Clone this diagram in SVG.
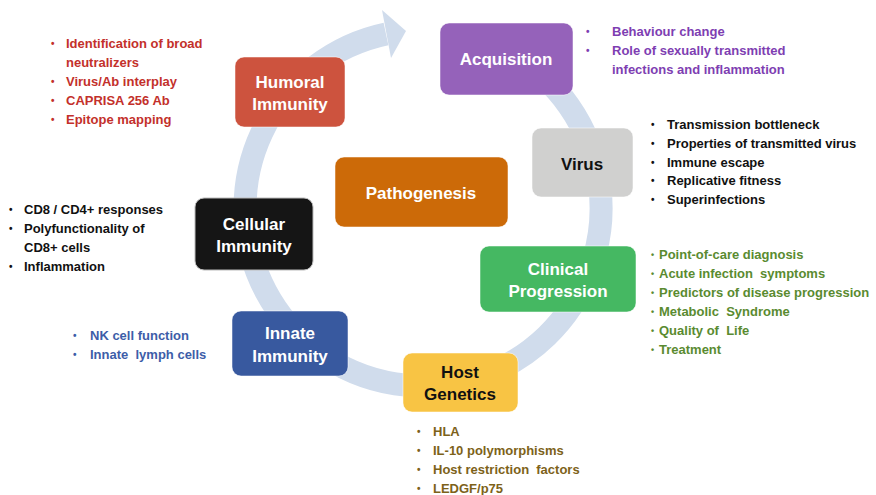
<svg xmlns="http://www.w3.org/2000/svg" width="876" height="495" viewBox="0 0 876 495">
<style>
text{font-family:"Liberation Sans",Arial,sans-serif;font-weight:bold;white-space:pre}
.lbl{font-size:17px;text-anchor:middle;fill:#fff}
.dk{fill:#111}
.b{font-size:13px}
.d{font-size:10px}
.box{stroke:#fff;stroke-opacity:0.5;stroke-width:1}
.ring{fill:none;stroke:#D0DCEC;stroke-width:23}
.red{fill:#C3302B}.pur{fill:#7E3EB2}.blk{fill:#111}.grn{fill:#5A8B30}.blu{fill:#3D5DA8}.gld{fill:#7D6219}
</style>
<rect width="876" height="495" fill="#fff"/>
<g id="connectors">
<path class="ring" d="M 512 53.8 A 178 178 0 1 1 386 33.9"/>
<polygon points="382,10 406,31 391,58" fill="#D0DCEC"/>
</g>
<g id="humoral">
<rect class="box" x="235" y="57" width="110" height="70" rx="9" fill="#CD533E"/>
<text class="lbl" x="290" y="88">Humoral</text>
<text class="lbl" x="290" y="110">Immunity</text>
</g>
<g id="acquisition">
<rect class="box" x="440" y="23" width="133" height="72" rx="9" fill="#9562BA"/>
<text class="lbl" x="506" y="65">Acquisition</text>
</g>
<g id="virus">
<rect class="box" x="532" y="128" width="101" height="69" rx="9" fill="#D0D0CF"/>
<text class="lbl dk" x="582" y="170">Virus</text>
</g>
<g id="pathogenesis">
<rect class="box" x="335" y="157" width="173" height="70" rx="9" fill="#CC6A08"/>
<text class="lbl" x="421" y="199">Pathogenesis</text>
</g>
<g id="cellular">
<rect x="195" y="198" width="118" height="72" rx="9" fill="#151515" stroke="#bbb" stroke-width="1"/>
<text class="lbl" x="254" y="230">Cellular</text>
<text class="lbl" x="254" y="252">Immunity</text>
</g>
<g id="clinical">
<rect class="box" x="480" y="246" width="156" height="66" rx="9" fill="#45B862"/>
<text class="lbl" x="558" y="275">Clinical</text>
<text class="lbl" x="558" y="297">Progression</text>
</g>
<g id="innate">
<rect class="box" x="232" y="311" width="116" height="65" rx="9" fill="#38599F"/>
<text class="lbl" x="290" y="339">Innate</text>
<text class="lbl" x="290" y="362">Immunity</text>
</g>
<g id="host">
<rect class="box" x="403" y="353" width="115" height="59" rx="9" fill="#F8C444"/>
<text class="lbl dk" x="460" y="378">Host</text>
<text class="lbl dk" x="460" y="400">Genetics</text>
</g>
<g id="humoral-notes" class="b red">
<text class="d" x="51" y="47">•</text><text x="66" y="48">Identification of broad</text>
<text x="66" y="67">neutralizers</text>
<text class="d" x="51" y="85">•</text><text x="66" y="86">Virus/Ab interplay</text>
<text class="d" x="51" y="104">•</text><text x="66" y="105">CAPRISA 256 Ab</text>
<text class="d" x="51" y="123">•</text><text x="66" y="124">Epitope mapping</text>
</g>
<g id="acquisition-notes" class="b pur">
<text class="d" x="586" y="35">•</text><text x="612" y="36">Behaviour change</text>
<text class="d" x="586" y="54">•</text><text x="612" y="55">Role of sexually transmitted</text>
<text x="612" y="74">infections and inflammation</text>
</g>
<g id="virus-notes" class="b blk">
<text class="d" x="651" y="128">•</text><text x="667" y="129">Transmission bottleneck</text>
<text class="d" x="651" y="147">•</text><text x="667" y="148">Properties of transmitted virus</text>
<text class="d" x="651" y="165.5">•</text><text x="667" y="166.5">Immune escape</text>
<text class="d" x="651" y="184">•</text><text x="667" y="185">Replicative fitness</text>
<text class="d" x="651" y="203">•</text><text x="667" y="204">Superinfections</text>
</g>
<g id="cellular-notes" class="b blk">
<text class="d" x="9" y="213">•</text><text x="24" y="214">CD8 / CD4+ responses</text>
<text class="d" x="9" y="232">•</text><text x="24" y="233">Polyfunctionality of</text>
<text x="24" y="252">CD8+ cells</text>
<text class="d" x="9" y="270">•</text><text x="24" y="271">Inflammation</text>
</g>
<g id="clinical-notes" class="b grn">
<text x="651" y="258" font-size="9">•</text><text x="659" y="259">Point-of-care diagnosis</text>
<text x="651" y="277" font-size="9">•</text><text x="659" y="278">Acute infection  symptoms</text>
<text x="651" y="296" font-size="9">•</text><text x="659" y="297">Predictors of disease progression</text>
<text x="651" y="315" font-size="9">•</text><text x="659" y="316">Metabolic  Syndrome</text>
<text x="651" y="334" font-size="9">•</text><text x="659" y="335">Quality of  Life</text>
<text x="651" y="353" font-size="9">•</text><text x="659" y="354">Treatment</text>
</g>
<g id="innate-notes" class="b blu">
<text class="d" x="73" y="339">•</text><text x="90" y="340">NK cell function</text>
<text class="d" x="73" y="358">•</text><text x="90" y="359">Innate  lymph cells</text>
</g>
<g id="host-notes" class="b gld">
<text class="d" x="417" y="435">•</text><text x="433" y="436">HLA</text>
<text class="d" x="417" y="454">•</text><text x="433" y="455">IL-10 polymorphisms</text>
<text class="d" x="417" y="473">•</text><text x="433" y="474">Host restriction  factors</text>
<text class="d" x="417" y="492">•</text><text x="433" y="493">LEDGF/p75</text>
</g>
</svg>
